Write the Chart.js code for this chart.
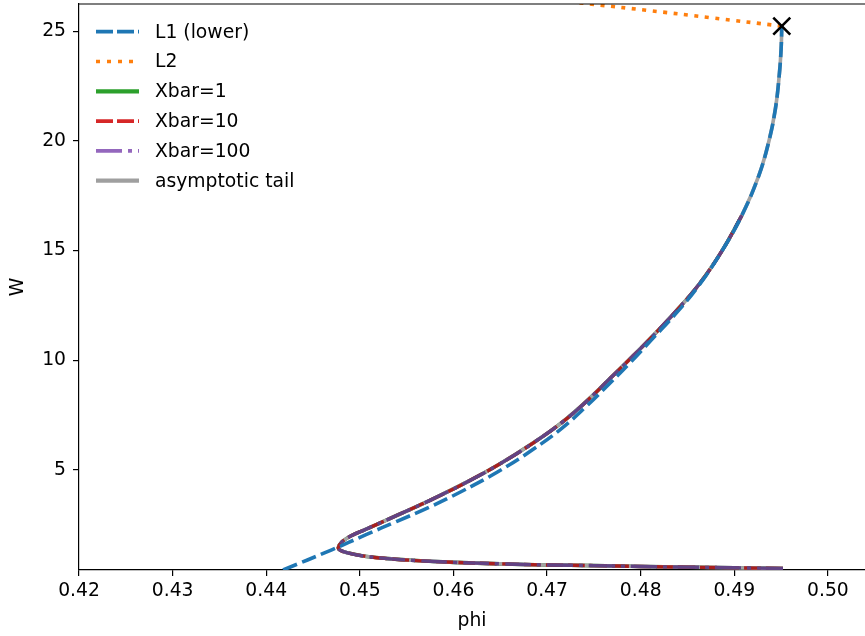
<!DOCTYPE html>
<html>
<head>
<meta charset="utf-8">
<script src="https://cdn.jsdelivr.net/npm/chart.js@4/dist/chart.umd.min.js"></script>
<style>
  html, body { margin: 0; padding: 0; background: #fff; }
  #wrap { width: 865px; height: 636px; }
</style>
</head>
<body>
<div id="wrap"><canvas id="phiChart" width="865" height="636"></canvas></div>
<script>
// Curve values (phi, W)
const l1Phi = [0.4418, 0.4470, 0.4506, 0.4539, 0.4572, 0.4608, 0.4647, 0.4684, 0.4716, 0.4742, 0.4766,
  0.4789, 0.4813, 0.4837, 0.4862, 0.4887, 0.4908, 0.4926, 0.4937, 0.4944, 0.4948, 0.4950, 0.49507];
const l1W = [0.43, 1.35, 2.03, 2.64, 3.25, 4.00, 4.90, 5.90, 6.90, 7.90, 8.90,
  9.90, 11.00, 12.10, 13.40, 15.00, 16.60, 18.40, 20.00, 21.50, 23.00, 24.20, 25.24];

const l2Phi = [0.49507, 0.4874, 0.4807, 0.4750, 0.4650];
const l2W = [25.24, 25.63, 25.96, 26.23, 26.70];

// Xbar=1, 10, 100 lie on top of each other
const xbarPhi = [0.4952, 0.4900, 0.4850, 0.4800, 0.4750, 0.4700, 0.4650, 0.4600, 0.4560, 0.4530, 0.4505,
  0.4488, 0.4479, 0.4477, 0.4481, 0.4492, 0.4505, 0.4541, 0.4576, 0.4612, 0.4648, 0.4685, 0.4717,
  0.4744, 0.4768, 0.4792, 0.4815, 0.4837, 0.4863, 0.4887, 0.4908];
const xbarW = [0.50, 0.53, 0.56, 0.59, 0.63, 0.66, 0.71, 0.78, 0.86, 0.95, 1.06,
  1.20, 1.33, 1.45, 1.72, 2.02, 2.26, 2.95, 3.63, 4.39, 5.23, 6.22, 7.20,
  8.20, 9.20, 10.20, 11.20, 12.20, 13.50, 15.00, 16.60];

const tailPhi = xbarPhi.concat([0.4926, 0.4937, 0.4944, 0.4948, 0.4950, 0.49507]);
const tailW = xbarW.concat([18.40, 20.00, 21.50, 23.00, 24.20, 25.24]);

const cuspPhi = [0.49507];
const cuspW = [25.24];

const xTicks = [0.42, 0.43, 0.44, 0.45, 0.46, 0.47, 0.48, 0.49, 0.50];
const yTicks = [5, 10, 15, 20, 25];

const pts = (xs, ys) => xs.map((x, i) => ({ x: x, y: ys[i] }));
const FONT = 'DejaVu Sans';

function curve(label, data, color, width, dash, order) {
  return {
    label: label, data: data, showLine: true, borderColor: color, borderWidth: width,
    borderDash: dash, pointRadius: 0, tension: 0.4, order: order, borderCapStyle: 'butt'
  };
}

// legend entries drawn by hand (matplotlib style, no frame)
const legendItems = [
  { text: 'L1 (lower)', color: '#1f77b4', width: 3.7, dash: [17, 4] },
  { text: 'L2', color: '#ff7f0e', width: 3.7, dash: [4, 7] },
  { text: 'Xbar=1', color: '#2ca02c', width: 4.2, dash: [] },
  { text: 'Xbar=10', color: '#d62728', width: 3.7, dash: [17, 4] },
  { text: 'Xbar=100', color: '#9467bd', width: 3.7, dash: [26, 6, 4, 6] },
  { text: 'asymptotic tail', color: '#9f9f9f', width: 4.2, dash: [] }
];

const framePlugin = {
  id: 'frame',
  afterDraw(chart) {
    const c = chart.ctx, a = chart.chartArea;
    c.save();
    c.strokeStyle = '#000';
    c.lineWidth = 1.2;
    c.beginPath();
    c.moveTo(a.left, a.top);
    c.lineTo(a.right, a.top);
    c.stroke();

    legendItems.forEach((it, i) => {
      const y = 31.7 + i * 29.8;
      c.strokeStyle = it.color;
      c.lineWidth = it.width;
      c.setLineDash(it.dash);
      c.lineCap = 'butt';
      c.beginPath();
      c.moveTo(96, y);
      c.lineTo(139, y);
      c.stroke();
      c.setLineDash([]);
      c.fillStyle = '#000';
      c.font = '18.75px "' + FONT + '"';
      c.textBaseline = 'middle';
      c.fillText(it.text, 155, y + 1);
    });
    c.restore();
  }
};

new Chart(document.getElementById('phiChart'), {
  type: 'scatter',
  data: {
    datasets: [
      curve('L1 (lower)', pts(l1Phi, l1W), '#1f77b4', 3.6, [15, 5.5], 2),
      curve('L2', pts(l2Phi, l2W), '#ff7f0e', 3.6, [4, 6.5], 1),
      curve('Xbar=1', pts(xbarPhi, xbarW), '#267326', 3.6, [], 6),
      curve('Xbar=10', pts(xbarPhi, xbarW), '#a81f1f', 3.4, [17, 5], 4),
      curve('Xbar=100', pts(xbarPhi, xbarW), '#624384', 3.4, [26, 6, 4, 6], 3),
      curve('asymptotic tail', pts(tailPhi, tailW), '#a3a3a3', 3.6, [], 5),
      {
        label: 'cusp', data: pts(cuspPhi, cuspW), pointStyle: 'crossRot', pointRadius: 12,
        borderColor: '#000', borderWidth: 2.6, order: 0
      }
    ]
  },
  options: {
    responsive: false,
    animation: false,
    layout: { autoPadding: false, padding: { top: 4, right: 0, left: 0, bottom: 0 } },
    plugins: { legend: { display: false }, tooltip: { enabled: false } },
    scales: {
      x: {
        type: 'linear', min: 0.42, max: 0.50396,
        afterBuildTicks: s => { s.ticks = xTicks.map(v => ({ value: v })); },
        afterFit: s => { s.height = 66; s.paddingLeft = 0; s.paddingRight = 0; },
        ticks: { callback: v => v.toFixed(2), color: '#000', padding: 4, maxRotation: 0,
          font: { family: FONT, size: 18.75 } },
        grid: { drawOnChartArea: false, drawTicks: true, tickLength: 6, color: '#000', lineWidth: 1.2 },
        border: { display: true, color: '#000', width: 1.2 },
        title: { display: true, text: 'phi', color: '#000', font: { family: FONT, size: 18.75 },
          padding: { top: 0, bottom: 4 } }
      },
      y: {
        type: 'linear', min: 0.43, max: 26.25,
        afterBuildTicks: s => { s.ticks = yTicks.map(v => ({ value: v })); },
        afterFit: s => { s.width = 79; s.paddingTop = 0; s.paddingBottom = 0; },
        ticks: { callback: v => String(v), color: '#000', padding: 7,
          font: { family: FONT, size: 18.75 } },
        grid: { drawOnChartArea: false, drawTicks: true, tickLength: 6, color: '#000', lineWidth: 1.2 },
        border: { display: true, color: '#000', width: 1.2 },
        title: { display: true, text: 'W', color: '#000', font: { family: FONT, size: 18.75 },
          padding: { top: 7, bottom: 0 } }
      }
    }
  },
  plugins: [framePlugin]
});
</script>
</body>
</html>
